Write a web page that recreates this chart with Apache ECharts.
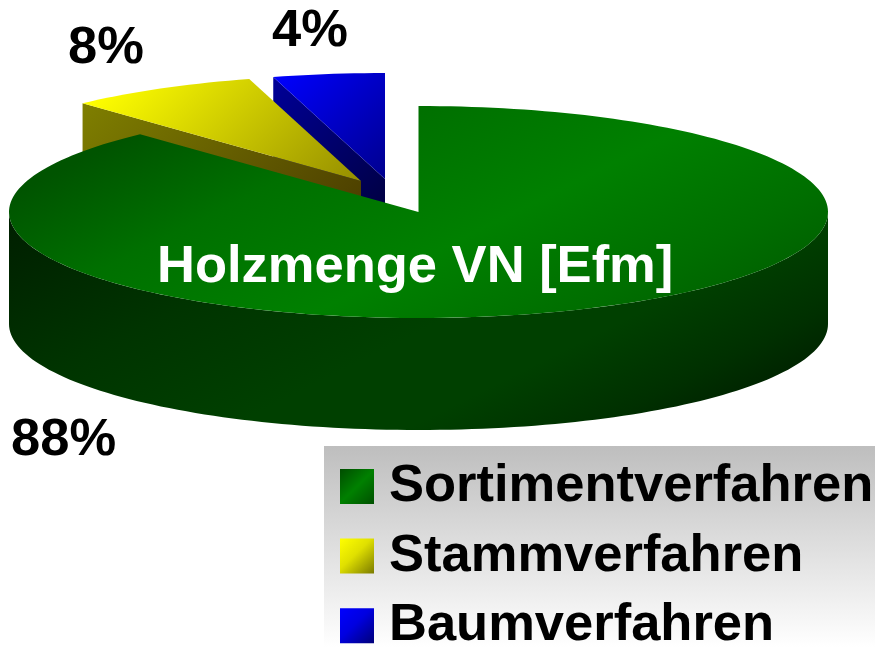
<!DOCTYPE html>
<html><head><meta charset="utf-8">
<style>html,body{margin:0;padding:0;background:#fff}#c{width:875px;height:647px}</style>
<script src="https://cdn.jsdelivr.net/npm/echarts@6/dist/echarts.min.js"></script>
</head><body><div id="c"></div>
<script>
const categories = ['Sortimentverfahren', 'Stammverfahren', 'Baumverfahren'];
const shares = [88.1, 7.5, 4.4];
const percentLabels = ['88%', '8%', '4%'];
const centerTitle = 'Holzmenge VN [Efm]';

const FONT = '"Liberation Sans", Arial, sans-serif';
const CX = 418.5, CY = 212, RX = 409.5, RY = 106, DEPTH = 112;
const explode = [[0, 0], [-57.5, -31], [-33.5, -33]];
const seriesZ = [5, 4, 3];

function grad(x1, y1, x2, y2, stops) {
  return { type: 'linear', global: true, x: x1, y: y1, x2: x2, y2: y2,
    colorStops: stops.map(c => ({ offset: c[0], color: c[1] })) };
}
const topFill = [
  grad(80, 160, 280, 560, [[0, '#005400'], [0.24, '#007000'], [0.54, '#008000'], [0.8, '#006e00'], [1, '#005c00']]),
  grad(95, 95, 305, 305, [[0, '#ffff00'], [1, '#807800']]),
  grad(175, 175, 295, 295, [[0, '#0000ff'], [1, '#000080']])
];
const sideFill = [
  grad(80, 160, 320, 640, [[0, '#001c00'], [0.33, '#003400'], [0.57, '#004000'], [0.72, '#004000'], [0.87, '#003000'], [1, '#001c00']]),
  grad(90, 90, 310, 310, [[0, '#808000'], [1, '#453600']]),
  grad(170, 170, 300, 300, [[0, '#00009c'], [1, '#000040']])
];
const diag = stops => ({ type: 'linear', x: 0, y: 0, x2: 1, y2: 1, colorStops: stops.map(c => ({ offset: c[0], color: c[1] })) });
const swatchFill = [
  diag([[0, '#004c00'], [0.5, '#008000'], [1, '#005000']]),
  diag([[0, '#ffff00'], [0.45, '#e0e000'], [1, '#7a7a00']]),
  diag([[0, '#0000ff'], [0.45, '#0000e0'], [1, '#000078']])
];

const total = shares.reduce((a, b) => a + b, 0);
function rimPoint(ox, oy, deg, drop) {
  const r = deg * Math.PI / 180;
  return [ox + RX * Math.sin(r), oy - RY * Math.cos(r) + drop];
}
function arcPoints(ox, oy, a0, a1, drop) {
  const n = Math.max(2, Math.ceil(Math.abs(a1 - a0) / 1.5));
  const pts = [];
  for (let i = 0; i <= n; i++) pts.push(rimPoint(ox, oy, a0 + (a1 - a0) * i / n, drop));
  return pts;
}
function renderSlice(idx) {
  return function (params, api) {
    const value = api.value(0);
    let before = 0;
    for (let i = 0; i < idx; i++) before += shares[i];
    const a0 = before / total * 360;
    const a1 = a0 + value / total * 360;
    const ox = CX + explode[idx][0], oy = CY + explode[idx][1];
    const children = [];
    if (a0 > 180) {
      const p = rimPoint(ox, oy, a0, 0);
      children.push({ type: 'polygon', shape: { points: [[ox, oy], p, [p[0], p[1] + DEPTH], [ox, oy + DEPTH]] },
        style: { fill: sideFill[idx] }, silent: true });
    }
    const f0 = Math.max(a0, 90), f1 = Math.min(a1, 270);
    if (f1 > f0) {
      const pts = arcPoints(ox, oy, f0, f1, 0).concat(arcPoints(ox, oy, f1, f0, DEPTH));
      children.push({ type: 'polygon', shape: { points: pts }, style: { fill: sideFill[idx] }, silent: true });
    }
    const topPts = [[ox, oy]].concat(arcPoints(ox, oy, a0, a1, 0));
    children.push({ type: 'polygon', shape: { points: topPts }, style: { fill: topFill[idx] }, silent: true });
    return { type: 'group', children: children };
  };
}

const textEl = (t, x, y, fill) => ({ type: 'text', z: 20, style: { text: t, x: x, y: y, fill: fill,
  font: 'bold 52.5px ' + FONT, textAlign: 'left' } });

const chart = echarts.init(document.getElementById('c'), null, { renderer: 'canvas' });
chart.setOption({
  animation: false,
  backgroundColor: '#fff',
  tooltip: { show: false },
  legend: {
    orient: 'vertical', left: 340, top: 460, height: 260, padding: 0,
    itemWidth: 34, itemHeight: 35, itemGap: 16.6, selectedMode: false, icon: 'rect',
    textStyle: { fontFamily: FONT, fontWeight: 'bold', fontSize: 52.5, color: '#000', padding: [0, 0, 0, 10] },
    data: categories.map((name, i) => ({ name: name, icon: 'rect', itemStyle: { color: swatchFill[i], borderWidth: 0 } }))
  },
  graphic: [
    { type: 'rect', z: 0, shape: { x: 324, y: 446, width: 551, height: 201 },
      style: { fill: { type: 'linear', x: 0, y: 0, x2: 0, y2: 1, colorStops: [{ offset: 0, color: '#bebebe' }, { offset: 1, color: '#ffffff' }] } } },
    textEl(percentLabels[0], 11, 414, '#000'),
    textEl(percentLabels[1], 68, 22, '#000'),
    textEl(percentLabels[2], 272, 5, '#000'),
    textEl(centerTitle, 157, 241, '#fff')
  ],
  series: categories.map((name, i) => ({
    type: 'custom', name: name, coordinateSystem: 'none', z: seriesZ[i],
    itemStyle: { color: swatchFill[i] },
    renderItem: renderSlice(i),
    data: [[shares[i]]]
  }))
});
</script></body></html>
